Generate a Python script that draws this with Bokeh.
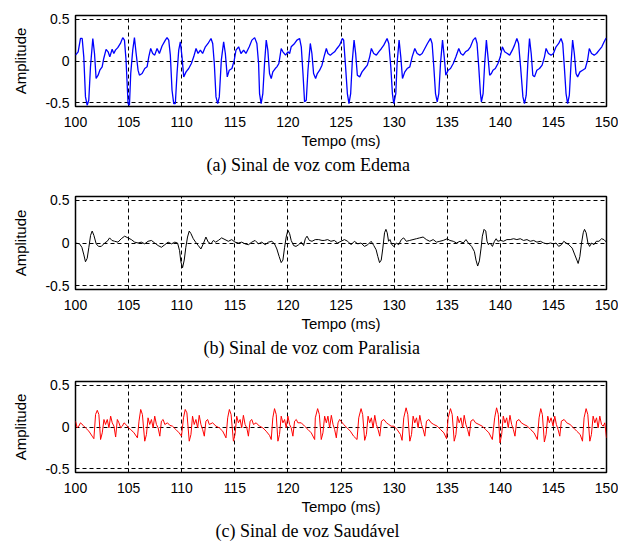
from bokeh.plotting import figure
from bokeh.models import FixedTicker, Title
from bokeh.layouts import column
from bokeh.embed import file_html
from bokeh.resources import INLINE

# ---------------- data ----------------
x_ticks = [100, 105, 110, 115, 120, 125, 130, 135, 140, 145, 150]
y_ticks = [-0.5, 0.0, 0.5]
y_tick_labels = ["-0.5", "0", "0.5"]
x_label = "Tempo (ms)"
y_label = "Amplitude"
captions = ["(a) Sinal de voz com Edema",
            "(b) Sinal de voz com Paralisia",
            "(c) Sinal de voz Saudável"]

edema_t = [100.00, 100.25, 100.47, 100.63, 100.78, 100.94, 101.10, 101.25, 101.41, 101.63,
           101.79, 101.94, 102.13, 102.29, 102.51, 102.66, 102.88, 103.07, 103.23, 103.45,
           103.61, 103.76, 103.98, 104.23, 104.45, 104.61, 104.76, 104.95, 105.08, 105.20,
           105.39, 105.55, 105.71, 105.89, 106.02, 106.27, 106.52, 106.74, 106.90, 107.08,
           107.27, 107.46, 107.68, 107.90, 108.15, 108.46, 108.62, 108.78, 108.93, 109.09,
           109.25, 109.40, 109.56, 109.72, 109.87, 110.03, 110.19, 110.41, 110.66, 110.91,
           111.13, 111.35, 111.54, 111.76, 111.97, 112.23, 112.48, 112.76, 112.92, 113.07,
           113.23, 113.39, 113.54, 113.73, 113.95, 114.11, 114.29, 114.48, 114.73, 114.95,
           115.11, 115.36, 115.58, 115.83, 116.05, 116.36, 116.61, 116.87, 117.08, 117.24,
           117.33, 117.48, 117.64, 117.80, 117.96, 118.11, 118.27, 118.43, 118.58, 118.81,
           118.96, 119.15, 119.37, 119.53, 119.78, 120.00, 120.16, 120.31, 120.63, 120.85,
           121.10, 121.26, 121.42, 121.57, 121.73, 121.89, 122.11, 122.26, 122.42, 122.61,
           122.77, 122.99, 123.21, 123.40, 123.62, 123.77, 123.99, 124.18, 124.40, 124.62,
           124.87, 125.13, 125.25, 125.41, 125.60, 125.75, 125.91, 126.07, 126.23, 126.38,
           126.54, 126.76, 126.98, 127.23, 127.48, 127.70, 127.86, 128.08, 128.33, 128.55,
           128.81, 129.03, 129.34, 129.50, 129.69, 129.84, 129.97, 130.16, 130.28, 130.47,
           130.63, 130.79, 131.01, 131.23, 131.48, 131.70, 131.95, 132.17, 132.42, 132.64,
           132.89, 133.14, 133.43, 133.58, 133.74, 133.90, 134.06, 134.21, 134.37, 134.56,
           134.72, 134.87, 135.09, 135.31, 135.57, 135.82, 136.09, 136.28, 136.50, 136.72,
           136.97, 137.19, 137.44, 137.66, 137.81, 137.97, 138.13, 138.22, 138.38, 138.53,
           138.69, 138.84, 139.00, 139.16, 139.31, 139.53, 139.78, 140.00, 140.19, 140.41,
           140.66, 140.88, 141.13, 141.34, 141.56, 141.72, 141.91, 142.13, 142.28, 142.44,
           142.59, 142.75, 142.91, 143.06, 143.22, 143.44, 143.69, 143.94, 144.16, 144.31,
           144.53, 144.78, 145.00, 145.25, 145.50, 145.72, 145.88, 146.03, 146.19, 146.34,
           146.50, 146.66, 146.81, 146.97, 147.13, 147.28, 147.50, 147.75, 148.00, 148.22,
           148.38, 148.59, 148.84, 149.06, 149.31, 149.56, 149.78, 149.94, 150.00]
edema_y = [0.07, 0.11, 0.27, 0.27, 0.05, -0.43, -0.53, -0.47, -0.07, 0.27,
           0.09, -0.21, -0.17, -0.11, -0.07, 0.03, 0.14, 0.11, 0.05, 0.14,
           0.09, 0.13, 0.16, 0.21, 0.28, 0.25, 0.01, -0.51, -0.53, -0.15,
           0.13, 0.28, 0.09, -0.11, -0.17, -0.15, -0.09, -0.07, 0.05, 0.15,
           0.09, 0.07, 0.15, 0.09, 0.18, 0.25, 0.28, 0.25, 0.07, -0.35,
           -0.51, -0.51, -0.15, 0.13, 0.23, 0.05, -0.19, -0.13, -0.09, -0.03,
           0.05, 0.15, 0.09, 0.13, 0.09, 0.17, 0.21, 0.27, 0.21, -0.03,
           -0.43, -0.51, -0.43, 0.01, 0.23, 0.09, -0.19, -0.11, -0.09, 0.01,
           0.13, 0.17, 0.09, 0.13, 0.09, 0.17, 0.25, 0.28, 0.21, -0.03,
           -0.39, -0.51, -0.39, -0.03, 0.25, 0.13, -0.15, -0.21, -0.13, -0.09,
           -0.07, -0.03, 0.15, 0.11, 0.07, 0.11, 0.09, 0.17, 0.21, 0.25,
           0.27, 0.17, -0.15, -0.49, -0.47, -0.11, 0.21, 0.09, -0.15, -0.21,
           -0.15, -0.11, -0.05, 0.05, 0.15, 0.09, 0.07, 0.09, 0.11, 0.15,
           0.19, 0.27, 0.25, -0.03, -0.39, -0.51, -0.39, 0.01, 0.25, 0.09,
           -0.17, -0.19, -0.13, -0.09, -0.05, 0.05, 0.15, 0.09, 0.07, 0.11,
           0.15, 0.19, 0.27, 0.21, -0.07, -0.39, -0.51, -0.39, -0.03, 0.25,
           0.05, -0.21, -0.13, -0.09, -0.07, 0.05, 0.15, 0.09, 0.07, 0.09,
           0.15, 0.21, 0.27, 0.21, -0.07, -0.39, -0.49, -0.39, -0.03, 0.25,
           0.05, -0.17, -0.11, -0.09, -0.03, 0.05, 0.15, 0.09, 0.07, 0.11,
           0.13, 0.17, 0.25, 0.28, 0.21, -0.07, -0.39, -0.49, -0.39, -0.03,
           0.25, 0.05, -0.17, -0.15, -0.11, -0.09, -0.03, 0.05, 0.17, 0.11,
           0.09, 0.07, 0.13, 0.19, 0.27, 0.21, -0.07, -0.43, -0.51, -0.41,
           -0.03, 0.27, 0.09, -0.17, -0.19, -0.11, -0.09, -0.05, 0.05, 0.15,
           0.09, 0.07, 0.09, 0.17, 0.21, 0.27, 0.21, -0.07, -0.39, -0.51,
           -0.41, -0.03, 0.25, 0.09, -0.15, -0.19, -0.13, -0.11, -0.09, 0.01,
           0.15, 0.09, 0.07, 0.09, 0.13, 0.17, 0.23, 0.27, 0.27]

paral_t = [100.00, 100.38, 100.60, 100.79, 100.94, 101.10, 101.26, 101.42, 101.57, 101.73,
           101.95, 102.17, 102.43, 102.74, 102.99, 103.21, 103.43, 103.69, 104.00, 104.31,
           104.63, 104.94, 105.26, 105.57, 105.89, 106.20, 106.52, 106.83, 107.15, 107.46,
           107.78, 108.09, 108.41, 108.72, 109.04, 109.35, 109.61, 109.80, 109.92, 110.08,
           110.24, 110.39, 110.55, 110.71, 110.87, 111.09, 111.31, 111.56, 111.81, 112.03,
           112.28, 112.50, 112.76, 112.98, 113.20, 113.45, 113.76, 114.08, 114.39, 114.71,
           115.02, 115.34, 115.65, 115.97, 116.28, 116.60, 116.91, 117.23, 117.54, 117.86,
           118.17, 118.49, 118.74, 118.96, 119.18, 119.37, 119.53, 119.69, 119.84, 120.00,
           120.16, 120.31, 120.54, 120.76, 121.01, 121.26, 121.48, 121.64, 121.80, 122.02,
           122.27, 122.58, 122.90, 123.21, 123.42, 123.74, 124.05, 124.37, 124.68, 125.00,
           125.32, 125.63, 125.95, 126.26, 126.58, 126.89, 127.21, 127.52, 127.84, 128.09,
           128.31, 128.47, 128.63, 128.79, 128.94, 129.10, 129.23, 129.35, 129.48, 129.61,
           129.79, 129.98, 130.21, 130.43, 130.68, 130.90, 131.15, 131.47, 131.78, 132.10,
           132.41, 132.73, 133.04, 133.36, 133.68, 133.99, 134.31, 134.62, 135.00, 135.25,
           135.57, 135.88, 136.20, 136.51, 136.77, 136.99, 137.30, 137.56, 137.71, 137.87,
           138.03, 138.19, 138.31, 138.47, 138.63, 138.75, 138.88, 139.04, 139.26, 139.45,
           139.61, 139.76, 140.05, 140.30, 140.62, 140.93, 141.25, 141.56, 141.88, 142.19,
           142.51, 142.82, 143.14, 143.45, 143.77, 144.09, 144.40, 144.72, 145.03, 145.25,
           145.50, 145.76, 145.98, 146.20, 146.45, 146.77, 147.02, 147.24, 147.33, 147.49,
           147.65, 147.81, 147.93, 148.08, 148.25, 148.41, 148.60, 148.82, 149.04, 149.29,
           149.54, 149.76, 150.00]
paral_y = [0.00, -0.01, -0.05, -0.14, -0.22, -0.18, -0.05, 0.09, 0.14, 0.09,
           -0.01, -0.04, -0.04, 0.00, 0.02, 0.06, 0.03, 0.02, 0.01, 0.05,
           0.08, 0.06, 0.04, 0.01, 0.00, 0.01, -0.01, 0.02, 0.03, 0.00,
           -0.03, -0.05, -0.02, 0.01, -0.01, 0.01, 0.00, -0.09, -0.22, -0.29,
           -0.20, -0.05, 0.07, 0.14, 0.11, 0.05, 0.01, -0.03, -0.07, -0.01,
           0.07, 0.01, -0.01, 0.03, 0.01, 0.03, 0.06, 0.04, 0.02, 0.04,
           0.01, 0.00, 0.01, -0.01, -0.02, 0.01, 0.03, -0.01, 0.01, -0.02,
           0.01, 0.02, -0.01, -0.07, -0.16, -0.23, -0.20, -0.05, 0.07, 0.15,
           0.11, 0.03, -0.03, -0.04, -0.02, 0.01, -0.03, 0.05, 0.08, 0.03,
           0.02, 0.04, 0.04, 0.03, 0.03, 0.04, 0.02, 0.03, 0.00, 0.02,
           0.04, 0.02, -0.02, 0.02, -0.01, 0.00, -0.04, -0.02, 0.02, -0.03,
           -0.08, -0.16, -0.23, -0.20, -0.06, 0.12, 0.16, 0.12, 0.02, 0.04,
           -0.02, -0.04, 0.00, -0.02, 0.04, 0.06, 0.02, 0.03, 0.04, 0.05,
           0.06, 0.07, 0.04, 0.02, 0.04, 0.01, 0.02, 0.03, 0.05, 0.03,
           0.02, 0.00, 0.02, 0.00, 0.04, 0.00, -0.04, -0.10, -0.20, -0.27,
           -0.21, -0.06, 0.08, 0.16, 0.14, 0.02, -0.02, 0.00, -0.04, 0.02,
           0.05, 0.02, 0.03, 0.02, 0.04, 0.04, 0.05, 0.04, 0.05, 0.03,
           0.04, 0.02, 0.03, 0.01, 0.02, 0.00, -0.01, 0.00, -0.01, 0.00,
           -0.04, -0.02, 0.02, 0.00, -0.02, -0.06, -0.14, -0.21, -0.24, -0.16,
           0.00, 0.12, 0.16, 0.12, 0.00, -0.04, 0.00, -0.02, 0.02, 0.02,
           0.05, 0.04, 0.01]

saud_t = [100.00, 100.16, 100.31, 100.47, 100.72, 100.94, 101.26, 101.57, 101.73, 101.89,
          102.05, 102.20, 102.36, 102.52, 102.68, 102.83, 102.99, 103.15, 103.31, 103.46,
          103.62, 103.78, 103.94, 104.09, 104.25, 104.41, 104.57, 104.82, 104.98, 105.20,
          105.51, 105.83, 105.98, 106.14, 106.30, 106.52, 106.68, 106.83, 106.99, 107.15,
          107.31, 107.46, 107.62, 107.78, 107.94, 108.09, 108.25, 108.41, 108.66, 108.88,
          109.13, 109.45, 109.76, 109.98, 110.17, 110.33, 110.49, 110.71, 110.87, 111.02,
          111.18, 111.34, 111.50, 111.65, 111.81, 111.97, 112.13, 112.28, 112.44, 112.60,
          112.91, 113.23, 113.54, 113.86, 114.17, 114.33, 114.49, 114.65, 114.87, 115.02,
          115.18, 115.34, 115.50, 115.65, 115.81, 115.97, 116.13, 116.28, 116.44, 116.60,
          116.76, 117.01, 117.32, 117.64, 117.95, 118.27, 118.43, 118.58, 118.74, 118.90,
          119.06, 119.21, 119.37, 119.53, 119.69, 119.84, 120.00, 120.16, 120.31, 120.47,
          120.63, 120.79, 120.94, 121.26, 121.57, 121.89, 122.20, 122.52, 122.58, 122.80,
          122.96, 123.14, 123.30, 123.46, 123.62, 123.77, 123.93, 124.09, 124.25, 124.40,
          124.56, 124.72, 124.87, 125.00, 125.25, 125.57, 125.88, 126.19, 126.51, 126.67,
          126.89, 127.04, 127.23, 127.39, 127.55, 127.70, 127.86, 128.02, 128.18, 128.33,
          128.49, 128.65, 128.81, 129.03, 129.28, 129.50, 129.72, 129.97, 130.28, 130.60,
          130.75, 130.91, 131.13, 131.29, 131.48, 131.64, 131.79, 131.95, 132.11, 132.26,
          132.42, 132.58, 132.74, 132.89, 133.05, 133.27, 133.49, 133.74, 134.06, 134.37,
          134.69, 134.94, 135.09, 135.31, 135.47, 135.66, 135.82, 135.97, 136.13, 136.29,
          136.45, 136.60, 136.76, 136.92, 137.08, 137.23, 137.45, 137.67, 137.99, 138.30,
          138.62, 138.93, 139.25, 139.47, 139.65, 139.81, 139.97, 140.13, 140.28, 140.44,
          140.60, 140.75, 140.91, 141.07, 141.23, 141.38, 141.54, 141.76, 141.98, 142.23,
          142.55, 142.86, 143.18, 143.49, 143.65, 143.81, 143.96, 144.15, 144.31, 144.47,
          144.62, 144.78, 144.97, 145.13, 145.28, 145.44, 145.60, 145.75, 146.01, 146.26,
          146.57, 146.89, 147.20, 147.52, 147.74, 147.89, 148.08, 148.24, 148.43, 148.58,
          148.74, 148.90, 149.06, 149.21, 149.37, 149.53, 149.69, 149.84, 150.00]
saud_y = [0.07, -0.01, 0.01, 0.05, 0.02, -0.01, -0.05, -0.11, -0.14, 0.15,
          0.20, 0.15, -0.15, -0.07, 0.09, 0.03, 0.09, -0.01, 0.13, 0.05,
          0.01, -0.12, 0.09, 0.05, -0.01, 0.01, 0.05, 0.02, -0.01, -0.03,
          -0.07, -0.13, 0.07, 0.21, 0.15, -0.17, -0.09, 0.11, 0.03, 0.09,
          -0.01, 0.13, 0.03, -0.01, -0.11, 0.07, 0.09, 0.03, 0.05, 0.02,
          0.01, -0.03, -0.07, -0.11, 0.11, 0.21, 0.17, -0.17, -0.09, 0.13,
          0.03, 0.09, -0.01, 0.14, 0.03, -0.03, -0.11, 0.07, 0.09, 0.03,
          0.05, 0.01, -0.01, -0.05, -0.13, 0.11, 0.21, 0.15, -0.17, -0.09,
          0.13, 0.05, 0.09, -0.01, 0.14, 0.03, -0.01, -0.11, 0.07, 0.09,
          0.03, 0.05, 0.01, -0.01, -0.05, -0.10, -0.15, 0.11, 0.22, 0.15,
          -0.17, -0.09, 0.13, 0.05, 0.09, -0.01, 0.13, 0.03, -0.01, -0.11,
          0.07, 0.09, 0.05, 0.05, 0.01, -0.03, -0.07, -0.15, 0.11, 0.22,
          0.15, -0.15, -0.07, 0.13, 0.05, 0.13, -0.01, 0.14, 0.03, -0.03,
          -0.13, 0.05, 0.09, 0.07, 0.03, -0.01, -0.05, -0.11, -0.15, 0.11,
          0.22, 0.15, -0.16, -0.09, 0.13, 0.05, 0.11, -0.01, 0.14, 0.03,
          -0.03, -0.11, 0.07, 0.09, 0.05, 0.03, 0.01, 0.01, -0.03, -0.09,
          -0.16, 0.11, 0.23, 0.15, -0.17, -0.09, 0.13, 0.05, 0.11, -0.01,
          0.14, 0.03, -0.03, -0.11, 0.07, 0.09, 0.05, 0.03, 0.01, -0.03,
          -0.07, -0.14, 0.11, 0.22, 0.15, -0.17, -0.09, 0.13, 0.05, 0.11,
          -0.01, 0.14, 0.03, -0.03, -0.11, 0.07, 0.09, 0.05, 0.03, 0.01,
          -0.03, -0.07, -0.15, 0.11, 0.23, 0.15, -0.19, -0.09, 0.13, 0.05,
          0.11, -0.01, 0.14, 0.03, -0.03, -0.11, 0.07, 0.09, 0.05, 0.03,
          0.01, -0.03, -0.07, -0.15, 0.11, 0.22, 0.15, -0.18, -0.09, 0.13,
          0.05, 0.11, 0.01, 0.13, 0.03, -0.03, -0.11, 0.07, 0.09, 0.05,
          0.03, -0.01, -0.05, -0.09, -0.17, 0.11, 0.22, 0.15, -0.17, -0.09,
          0.13, 0.05, 0.11, -0.01, 0.13, 0.03, 0.01, 0.05, -0.13]

# ---------------- styling helpers ----------------
SANS = "Liberation Sans"
SERIF = "Liberation Serif"


def make_panel(t, y, color, lw, caption, border_left, border_right, border_top,
               border_bottom, frame_h, cap_offset):
    p = figure(frame_width=531, frame_height=frame_h,
               x_range=(100, 150), y_range=(-0.545, 0.545),
               output_backend="svg", toolbar_location=None, title=None,
               min_border_left=border_left, min_border_right=border_right,
               min_border_top=border_top, min_border_bottom=border_bottom)
    p.background_fill_color = "white"
    p.border_fill_color = "white"
    p.outline_line_color = "black"
    p.outline_line_width = 1.5
    p.outline_line_alpha = 1

    xt = FixedTicker(ticks=x_ticks)
    yt = FixedTicker(ticks=y_ticks)
    p.xaxis.ticker = xt
    p.yaxis.ticker = yt
    p.xgrid.ticker = xt
    p.ygrid.ticker = yt
    p.yaxis.major_label_overrides = dict(zip(y_ticks, y_tick_labels))

    for ax in (p.xaxis[0], p.yaxis[0]):
        ax.axis_line_color = None
        ax.major_tick_in = 0
        ax.major_tick_out = 0
        ax.minor_tick_in = 0
        ax.minor_tick_out = 0
        ax.major_label_text_font = SANS
        ax.major_label_text_font_size = "14px"
        ax.major_label_text_color = "black"
        ax.axis_label_text_font = SANS
        ax.axis_label_text_font_size = "15px"
        ax.axis_label_text_font_style = "normal"
        ax.axis_label_text_color = "black"

    p.xaxis.axis_label = x_label
    p.yaxis.axis_label = y_label
    p.xaxis.major_label_standoff = 10
    p.xaxis.axis_label_standoff = 2
    p.yaxis.major_label_standoff = 6
    p.yaxis.axis_label_standoff = 13

    for g in (p.xgrid[0], p.ygrid[0]):
        g.grid_line_color = "black"
        g.grid_line_dash = "4 3"
        g.grid_line_width = 1
        g.grid_line_alpha = 1

    p.line(t, y, line_color=color, line_width=lw)

    p.add_layout(Title(text=caption, align="left", offset=cap_offset,
                       vertical_align="bottom", standoff=2,
                       text_font=SERIF, text_font_size="18px",
                       text_font_style="normal", text_color="black"), "below")
    return p


pa = make_panel(edema_t, edema_y, "#0000FF", 1.3, captions[0], 70, 17, 15, 84, 91, 131)
pb = make_panel(paral_t, paral_y, "#000000", 1.0, captions[1], 71, 16, 6, 86, 93, 128)
pc = make_panel(saud_t, saud_y, "#FF0000", 1.0, captions[2], 75, 12, 6, 70, 91, 140)

layout = column(pa, pb, pc, spacing=0)
html = file_html(layout, INLINE)
with open("out.html", "w") as f:
    f.write(html)
